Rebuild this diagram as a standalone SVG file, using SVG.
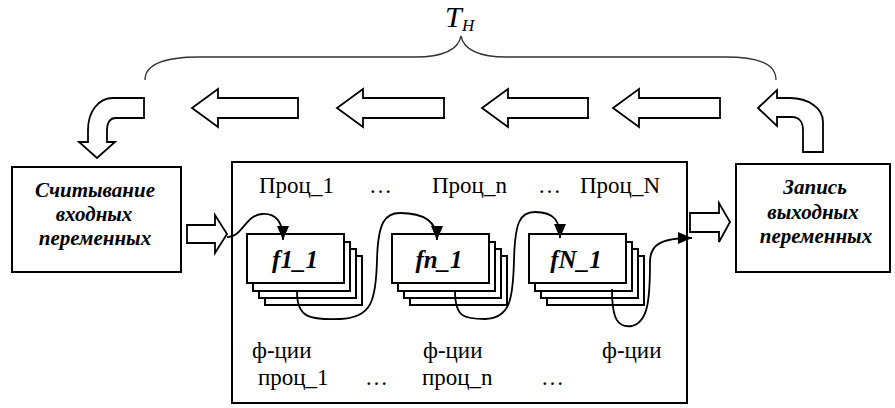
<svg xmlns="http://www.w3.org/2000/svg" width="895" height="408" viewBox="0 0 895 408">
<defs>
<style>
.box{fill:#fff;stroke:#000;stroke-width:2}
.fat{fill:#fff;stroke:#000;stroke-width:1.8;stroke-linejoin:miter}
.conn{fill:none;stroke:#000;stroke-width:1.8}
.brace{fill:none;stroke:#333;stroke-width:1.3}
.lbl{font-family:"Liberation Serif",serif;font-size:23px;fill:#000}
.bi{font-family:"Liberation Serif",serif;font-size:21px;font-weight:bold;font-style:italic;fill:#000;text-anchor:middle}
.fn{font-family:"Liberation Serif",serif;font-size:25px;font-weight:bold;font-style:italic;fill:#000;text-anchor:middle}
</style>
<marker id="ah2" viewBox="0 0 14 12" refX="14" refY="6" markerWidth="14" markerHeight="12" markerUnits="userSpaceOnUse" orient="auto">
<path d="M0,0 L14,6 L0,12 Z" fill="#000"/>
</marker>
<g id="stack">
<rect class="box" x="18" y="22" width="97" height="49"/>
<rect class="box" x="12" y="15" width="97" height="49"/>
<rect class="box" x="6" y="8" width="97" height="49"/>
<rect class="box" x="0" y="0" width="97" height="49"/>
</g>
</defs>

<g id="cycle">
<path class="brace" d="M145,80 C145,63 168,57 200,57 L415,57 C440,57 458,51 461,36 C464,51 482,57 507,57 L725,57 C757,57 776,63 776,80"/>
<text x="445" y="27" font-family="Liberation Serif,serif" font-style="italic" font-size="30">T</text>
<text x="462" y="31" font-family="Liberation Serif,serif" font-style="italic" font-size="17">H</text>
<path class="fat" d="M823,152 L803,152 L803,130 C803,122 799,117 792,117 L777,117 L777,126 L758,108 L777,90 L777,98 L790,98 C808,98 823,108 823,122 Z"/>
<path class="fat" d="M720,98 L639,98 L639,89 L613,108 L639,127 L639,118 L720,118 Z"/>
<path class="fat" d="M588,98 L508,98 L508,89 L482,108 L508,127 L508,118 L588,118 Z"/>
<path class="fat" d="M444,98 L363,98 L363,89 L337,108 L363,127 L363,118 L444,118 Z"/>
<path class="fat" d="M298,98 L218,98 L218,89 L192,108 L218,127 L218,118 L298,118 Z"/>
<path class="fat" d="M144,98 L113,98 C98,98 88,112 88,130 L88,142 L79,142 L97,158 L115,142 L107,142 L107,131 C107,123 110,118 116,118 L144,118 Z"/>
</g>

<g id="read">
<rect class="box" x="12" y="167" width="169" height="105"/>
<text class="bi" x="95" y="197">Считывание</text>
<text class="bi" x="94" y="221">входных</text>
<text class="bi" x="95" y="245">переменных</text>
</g>

<g id="inArrow">
<path class="fat" d="M187,225 L215,225 L215,215 L227,234 L215,253 L215,243 L187,243 Z"/>
</g>

<g id="main">
<rect class="box" x="232" y="162" width="455" height="241"/>
<text class="lbl" x="259" y="193">Проц_1</text>
<text class="lbl" x="369" y="193">…</text>
<text class="lbl" x="432" y="193">Проц_n</text>
<text class="lbl" x="538" y="193">…</text>
<text class="lbl" x="580" y="193">Проц_N</text>
<text class="lbl" x="252" y="358">ф-ции</text>
<text class="lbl" x="423" y="358">ф-ции</text>
<text class="lbl" x="602" y="358">ф-ции</text>
<text class="lbl" x="258" y="385">проц_1</text>
<text class="lbl" x="365" y="385">…</text>
<text class="lbl" x="422" y="385">проц_n</text>
<text class="lbl" x="541" y="385">…</text>
</g>

<g id="f1_1">
<use href="#stack" transform="translate(247,234)"/>
<text class="fn" x="295" y="268">f1_1</text>
</g>
<g id="fn_1">
<use href="#stack" transform="translate(392,234)"/>
<text class="fn" x="439" y="268">fn_1</text>
</g>
<g id="fN_1">
<use href="#stack" transform="translate(529,234)"/>
<text class="fn" x="576" y="268">fN_1</text>
</g>

<g id="write">
<rect class="box" x="736" y="164" width="154" height="108"/>
<text class="bi" x="815" y="194">Запись</text>
<text class="bi" x="813" y="219">выходных</text>
<text class="bi" x="816" y="243">переменных</text>
</g>

<g id="outArrow">
<path class="fat" d="M690,213 L719,213 L719,203 L730,222 L719,242 L719,232 L690,232 Z"/>
</g>

<g id="connectors">
<path class="conn" marker-end="url(#ah2)" d="M227,237 C242,238 245,215 262,214 C276,213 283,222 283,240"/>
<path class="conn" marker-end="url(#ah2)" d="M297,292 C297,318 310,320 340,319 C372,318 376,300 377,260 C378,222 385,213 400,213 C425,213 437,222 437,240"/>
<path class="conn" marker-end="url(#ah2)" d="M455,291 C455,318 465,319 485,319 C510,318 513,300 514,260 C515,222 520,212 535,212 C555,212 560,222 560,238"/>
<path class="conn" marker-end="url(#ah2)" d="M612,289 C612,320 618,328 632,326 C648,322 650,300 650,262 C650,245 660,238 692,238"/>
</g>
</svg>
